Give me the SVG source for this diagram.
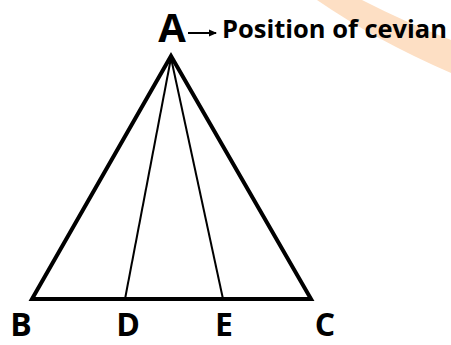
<svg xmlns="http://www.w3.org/2000/svg" width="451" height="345" viewBox="0 0 451 345">
<defs>
<style>
.lbl{font-family:"Open Sans","Liberation Sans",sans-serif;font-weight:bold;fill:#000;}
.side{stroke:#000;stroke-width:4;fill:none;stroke-linejoin:miter;}
.cev{stroke:#000;stroke-width:2;fill:none;}
</style>
<marker id="arr" markerWidth="8" markerHeight="8" refX="7" refY="4" orient="auto" markerUnits="userSpaceOnUse">
<path d="M0,0.5 L8,4 L0,7.5 Z" fill="#000"/>
</marker>
</defs>
<rect width="451" height="345" fill="#fff"/>
<path d="M317,0 L362,0 Q405,22 451,40 L451,73 Q375,40 317,0 Z" fill="#FDDFC4"/>
<g id="connectors">
<path class="side" d="M171,56 L32,299 L311,299 Z"/>
<line class="cev" x1="171" y1="58" x2="125" y2="299"/>
<line class="cev" x1="171" y1="58" x2="223" y2="299"/>
<line x1="188" y1="33" x2="216" y2="33" stroke="#000" stroke-width="2" marker-end="url(#arr)"/>
</g>
<g id="node-A"><text class="lbl" x="172" y="42" font-size="40" text-anchor="middle">A</text></g>
<g id="node-note"><text class="lbl" x="222" y="38" font-size="25" textLength="225" lengthAdjust="spacingAndGlyphs">Position of cevian</text></g>
<g id="node-B"><text class="lbl" x="21" y="336" font-size="32" text-anchor="middle">B</text></g>
<g id="node-D"><text class="lbl" x="128" y="336" font-size="32" text-anchor="middle">D</text></g>
<g id="node-E"><text class="lbl" x="224" y="336" font-size="32" text-anchor="middle">E</text></g>
<g id="node-C"><text class="lbl" x="325" y="336" font-size="32" text-anchor="middle">C</text></g>
</svg>
